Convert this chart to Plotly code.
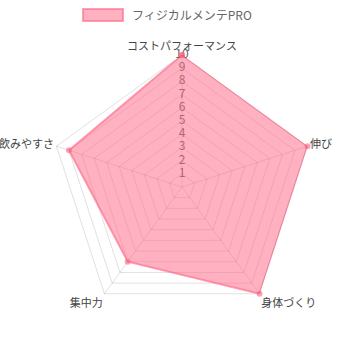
import plotly.graph_objects as go

categories = ["コストパフォーマンス", "伸び", "身体づくり", "集中力", "飲みやすさ"]
values = [10, 10, 10, 7, 9]
series_name = "フィジカルメンテPRO"
tick_values = [1, 2, 3, 4, 5, 6, 7, 8, 9, 10]
tick_labels = [str(v) for v in tick_values]

FONT = "Noto Sans CJK JP, Noto Sans, sans-serif"
W = H = 344

fig = go.Figure()

# tick labels centered on the top axis (drawn under the fill like Chart.js)
fig.add_trace(go.Scatterpolar(
    r=tick_values,
    theta=[categories[0]] * len(tick_values),
    mode="text",
    text=tick_labels,
    textfont=dict(family=FONT, size=12, color="#666666"),
    showlegend=False,
    hoverinfo="skip",
))

fig.add_trace(go.Scatterpolar(
    r=values + [values[0]],
    theta=categories + [categories[0]],
    name=series_name,
    mode="lines+markers",
    fill="toself",
    fillcolor="rgba(255,99,132,0.5)",
    line=dict(color="rgba(255,99,132,0.6)", width=2),
    marker=dict(color="rgba(255,99,132,0.6)", size=6),
    showlegend=False,
))

# Chart.js-style legend: box + label
box_x0, box_x1, box_y0, box_y1 = 83, 123, 9, 21
fig.add_shape(
    type="rect", xref="paper", yref="paper",
    x0=box_x0 / W, x1=box_x1 / W, y0=1 - box_y1 / H, y1=1 - box_y0 / H,
    fillcolor="rgba(255,99,132,0.5)",
    line=dict(color="rgba(255,99,132,0.6)", width=2),
)
fig.add_annotation(
    text=series_name, xref="paper", yref="paper",
    x=130 / W, y=1 - 15 / H, xanchor="left", yanchor="middle",
    showarrow=False, font=dict(family=FONT, size=12, color="#666666"),
)

fig.update_layout(
    width=W, height=H,
    margin=dict(l=0, r=0, t=0, b=0),
    paper_bgcolor="white",
    plot_bgcolor="white",
    font=dict(family=FONT, size=11, color="#666666"),
    showlegend=False,
    polar=dict(
        domain=dict(x=[0.1453, 0.9128], y=[0.0727, 0.8401]),
        gridshape="linear",
        bgcolor="white",
        radialaxis=dict(
            range=[0, 10], dtick=1, showticklabels=False, ticks="",
            showline=False, gridcolor="rgba(0,0,0,0.12)", gridwidth=1,
        ),
        angularaxis=dict(
            rotation=90, direction="clockwise",
            gridcolor="rgba(0,0,0,0.12)", linecolor="rgba(0,0,0,0.12)",
            showline=True, ticks="",
            tickfont=dict(family=FONT, size=11, color="#444444"),
        ),
    ),
)

fig.write_html("out.html")
